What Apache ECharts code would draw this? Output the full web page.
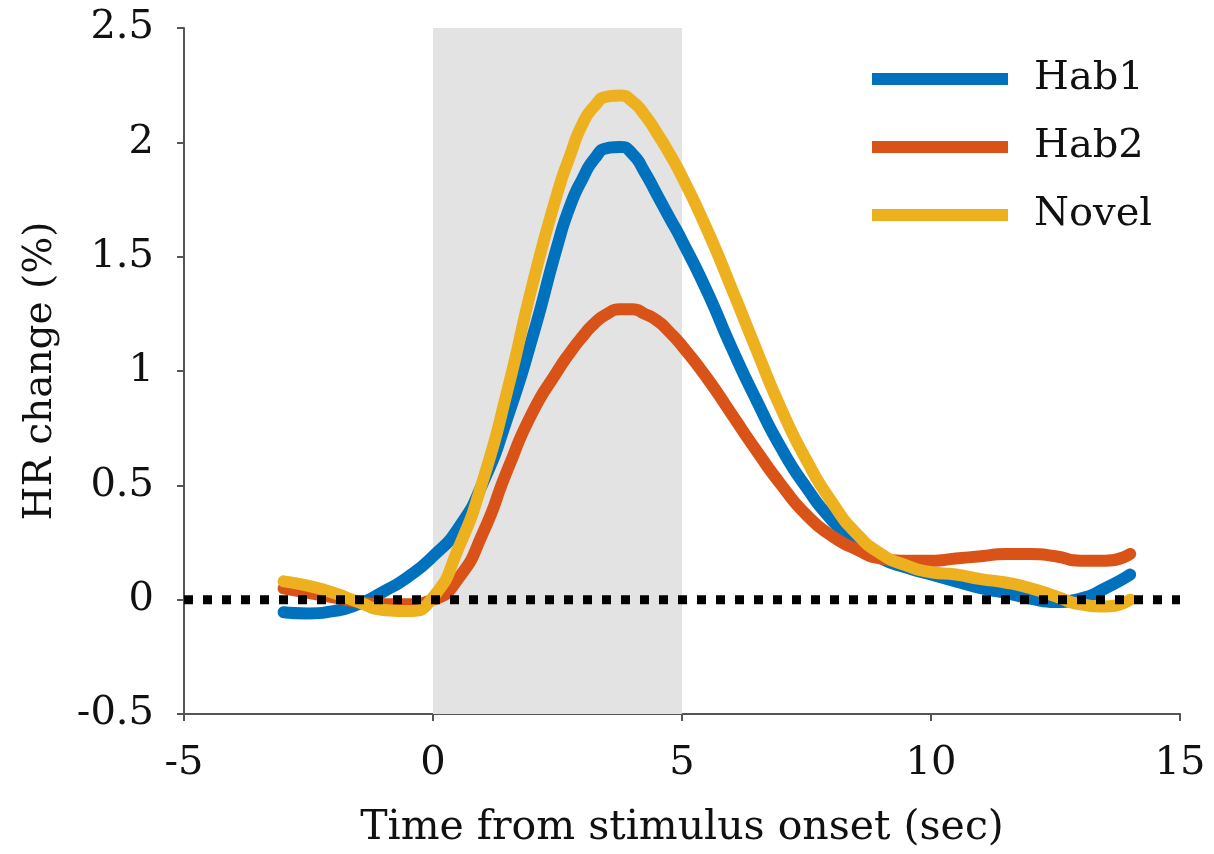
<!DOCTYPE html>
<html>
<head>
<meta charset="utf-8">
<script src="https://cdn.jsdelivr.net/npm/echarts@6/dist/echarts.min.js"></script>
<style>
html,body{margin:0;padding:0;background:#fff;}
#chart{width:1214px;height:854px;}
</style>
</head>
<body>
<div id="chart"></div>
<script>
// Time (sec) sample points
const timeSec = [-3,-2.5,-2,-1.5,-1,-0.5,0,0.5,1,1.5,2,2.5,2.75,3,3.25,3.5,3.75,4,4.25,4.5,4.75,5,5.5,6,6.5,7,7.5,8,8.5,9,9.5,10,10.5,11,11.5,12,12.5,13,13.5,14];
const hab1  = [-0.055,-0.06,-0.05,-0.02,0.035,0.10,0.19,0.31,0.51,0.80,1.15,1.55,1.72,1.84,1.93,1.975,1.98,1.95,1.87,1.77,1.67,1.57,1.35,1.10,0.87,0.66,0.49,0.35,0.25,0.18,0.14,0.11,0.08,0.05,0.03,0.005,-0.01,0.005,0.05,0.11];
const hab2  = [0.05,0.03,0.01,-0.01,-0.02,-0.02,0.0,0.09,0.29,0.57,0.82,1.0,1.08,1.15,1.21,1.25,1.27,1.27,1.25,1.22,1.17,1.11,0.97,0.81,0.65,0.5,0.37,0.28,0.22,0.18,0.17,0.17,0.18,0.19,0.2,0.2,0.19,0.17,0.17,0.2];
const novel = [0.08,0.06,0.03,-0.01,-0.045,-0.05,0.01,0.22,0.52,0.92,1.38,1.78,1.94,2.08,2.16,2.2,2.205,2.18,2.12,2.04,1.95,1.85,1.62,1.36,1.09,0.83,0.61,0.43,0.29,0.2,0.15,0.12,0.11,0.09,0.075,0.05,0.015,-0.02,-0.03,0.0];
const seriesNames = ['Hab1','Hab2','Novel'];
const stimulusWindow = [0, 5];
const baselineX = [-5, 15];
const baselineY = [0, 0];
const xRange = [-5, 15, 5];
const yRange = [-0.5, 2.5, 0.5];

const colors = ['#0072BD','#D95319','#EDB120'];
const FONT = 'DejaVu Serif';

const pair = (xs, ys) => xs.map((x, i) => [x, ys[i]]);
const lineSeries = (name, vals, color, z) => ({
  name, type: 'line', data: pair(timeSec, vals), smooth: 0.6, showSymbol: false, symbol: 'none',
  lineStyle: { width: 12, color, cap: 'round', join: 'round' }, itemStyle: { color }, z
});

const chart = echarts.init(document.getElementById('chart'));
chart.setOption({
  animation: false,
  backgroundColor: '#fff',
  grid: { left: 184, right: 34, top: 28, bottom: 139, containLabel: false },
  legend: {
    data: seriesNames, orient: 'vertical', left: 867, top: 52,
    icon: 'rect', itemWidth: 136, itemHeight: 12, itemGap: 24,
    textStyle: { fontFamily: FONT, fontSize: 40, color: '#111', lineHeight: 44, padding: [0,0,0,21] }
  },
  xAxis: {
    type: 'value', min: xRange[0], max: xRange[1], interval: xRange[2],
    name: 'Time from stimulus onset (sec)', nameLocation: 'middle', nameGap: 94,
    nameTextStyle: { fontFamily: FONT, fontSize: 41, color: '#111' },
    axisLine: { onZero: false, lineStyle: { color: '#555', width: 2 } },
    axisTick: { show: true, inside: false, length: 7, lineStyle: { color: '#555', width: 2 } },
    axisLabel: { fontFamily: FONT, fontSize: 40, color: '#111', margin: 30 },
    splitLine: { show: false }
  },
  yAxis: {
    type: 'value', min: yRange[0], max: yRange[1], interval: yRange[2],
    name: 'HR change (%)', nameLocation: 'middle', nameGap: 124, nameRotate: 90,
    nameTextStyle: { fontFamily: FONT, fontSize: 39, color: '#111' },
    axisLine: { show: true, onZero: false, lineStyle: { color: '#555', width: 2 } },
    axisTick: { show: true, inside: false, length: 7, lineStyle: { color: '#555', width: 2 } },
    axisLabel: { fontFamily: FONT, fontSize: 40, color: '#111', margin: 30 },
    splitLine: { show: false }
  },
  series: [
    {
      name: 'stimulus', type: 'line', data: [], z: 1, silent: true,
      markArea: {
        silent: true,
        itemStyle: { color: '#e3e3e3', borderWidth: 0 },
        data: [[{ xAxis: stimulusWindow[0], yAxis: yRange[0] }, { xAxis: stimulusWindow[1], yAxis: yRange[1] }]]
      }
    },
    lineSeries('Hab1', hab1, colors[0], 3),
    lineSeries('Hab2', hab2, colors[1], 4),
    lineSeries('Novel', novel, colors[2], 5),
    {
      name: 'baseline', type: 'line', data: pair(baselineX, baselineY), showSymbol: false, symbol: 'none', z: 6,
      lineStyle: { color: '#000', width: 9, type: [9, 10] }
    }
  ]
});
</script>
</body>
</html>
